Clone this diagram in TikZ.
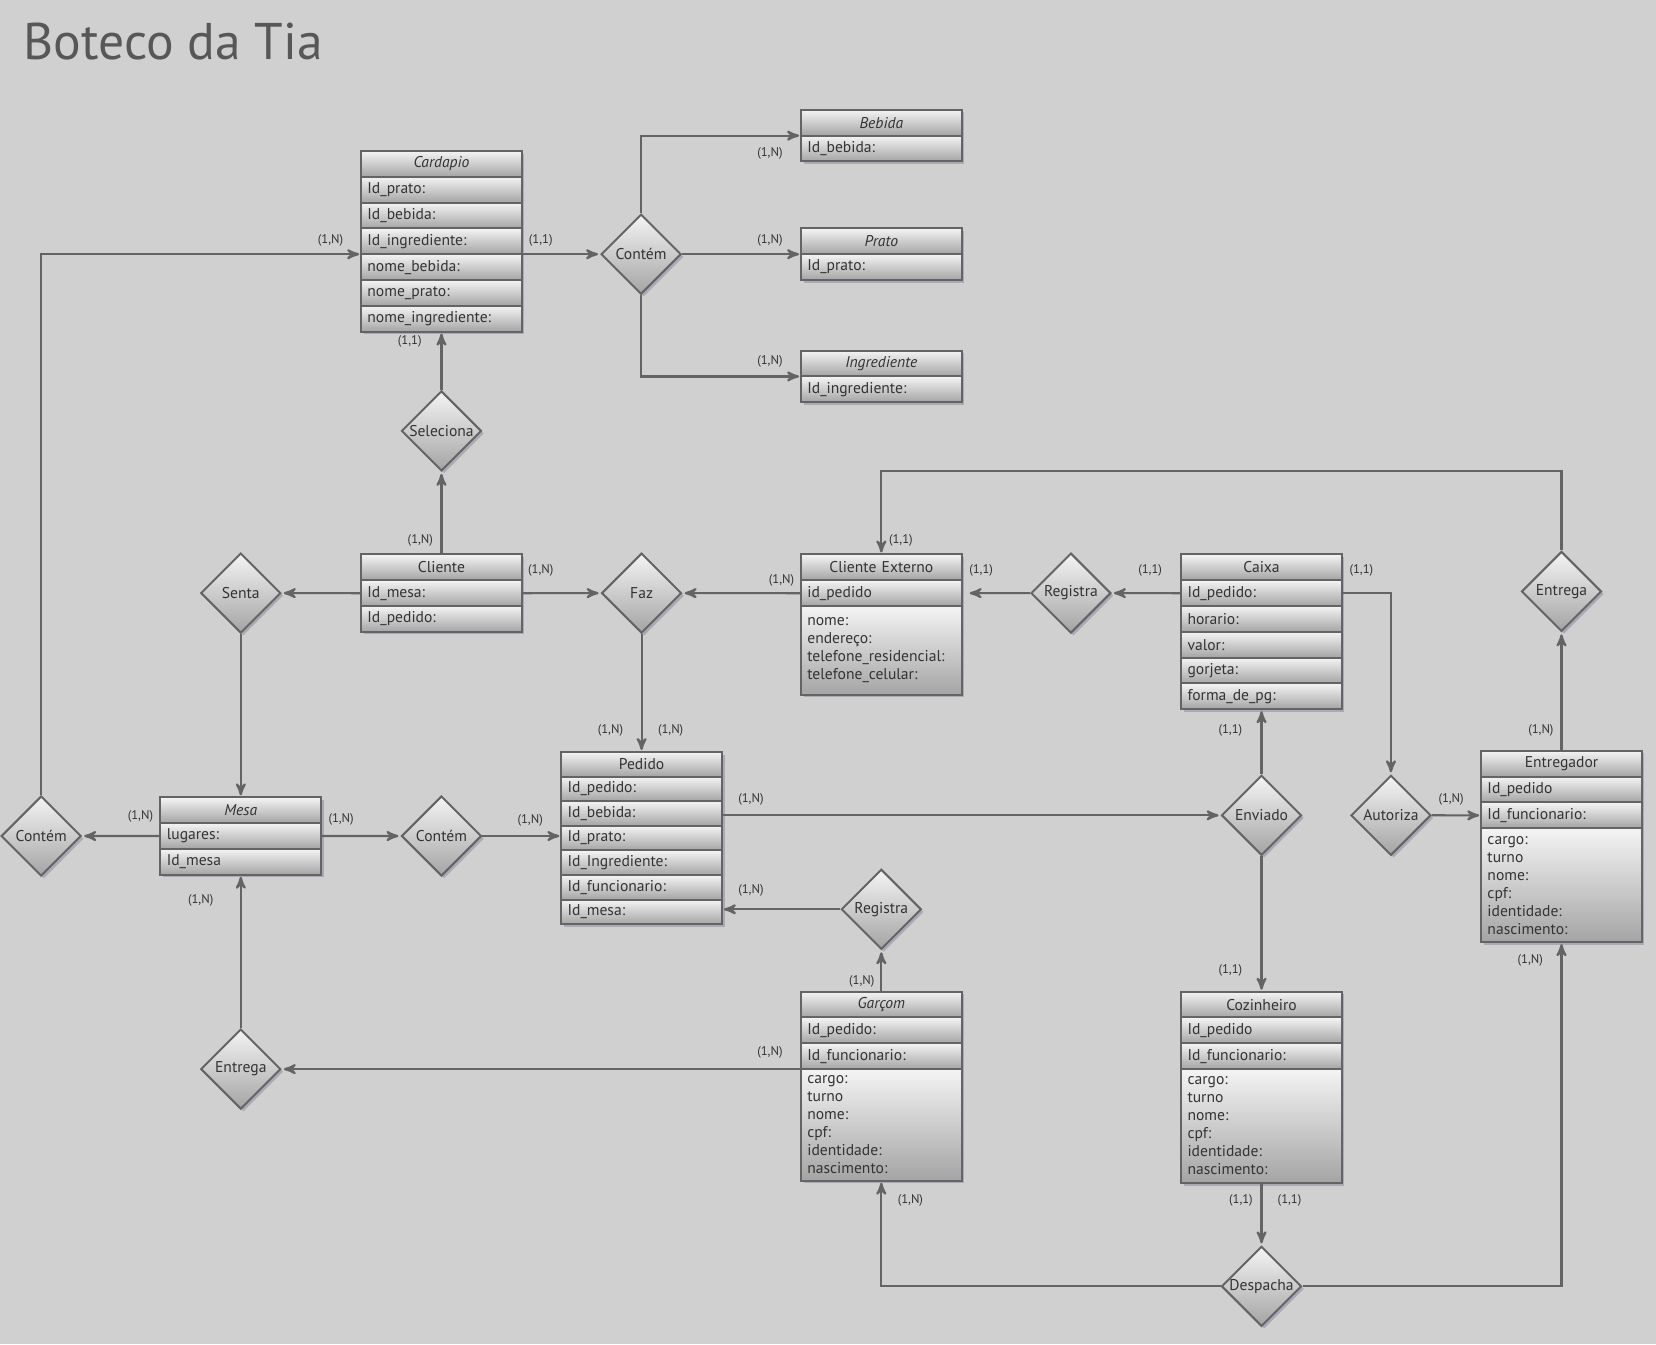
\documentclass[tikz,border=0pt]{standalone}
\usepackage{fontspec}
\setmainfont{PT Sans}
\usepackage{xcolor}
\usepackage{tikz}
\tikzset{font={\fontsize{7.8pt}{9pt}\selectfont}}
\usetikzlibrary{arrows,positioning,shapes.geometric,shadows}
\definecolor{bgcol}{HTML}{D0D0D0}
\definecolor{linecol}{HTML}{646464}
\definecolor{txtcol}{HTML}{333333}
\definecolor{boxtop}{HTML}{F4F4F4}
\definecolor{boxbot}{HTML}{A4A4A4}
\definecolor{shadecol}{HTML}{8C8CA2}

\begin{document}
\begin{tikzpicture}[x=0.528pt,y={(0pt,-0.528pt)},>=stealth',shorten >=1pt,line width=1.1pt,
    entity row/.style={rectangle,draw=linecol,line width=1pt,outer sep=0pt,
      minimum width=80.3pt,minimum height=12.9pt,text width=74pt,inner xsep=3pt,inner ysep=1pt,
      align=left,text=txtcol,top color=boxtop,bottom color=boxbot,
      drop shadow={shadow xshift=1.3pt,shadow yshift=-1.3pt,fill=shadecol,opacity=.55}},
    entity head/.style={entity row,align=center},
    entity attr/.style={entity row,minimum height=#1},
    rel node/.style={diamond,aspect=1,draw=linecol,line width=1pt,minimum size=40pt,inner sep=0pt,
      text=txtcol,top color=boxtop,bottom color=boxbot,
      drop shadow={shadow xshift=1.3pt,shadow yshift=-1.3pt,fill=shadecol,opacity=.55}},
    card label/.style={text=txtcol,font=\fontsize{6.3pt}{7pt}\selectfont,inner sep=0pt},
    link/.style={->,draw=linecol}]

  \path[fill=bgcol,use as bounding box] (0,0) rectangle (1568,1273);
  \node[anchor=west,text=black!66,font=\fontsize{25.8pt}{30pt}\selectfont] (title) at (15,39) {Boteco da Tia};

  % Cardapio
  \node[entity head] (card) at (418,155.2) {\textit{Cardapio}};
  \node[entity row, below=0pt of card] (card1) {Id\_prato:};
  \node[entity row, below=0pt of card1] (card2) {Id\_bebida:};
  \node[entity row, below=0pt of card2] (card3) {Id\_ingrediente:};
  \node[entity row, below=0pt of card3] (card4) {nome\_bebida:};
  \node[entity row, below=0pt of card4] (card5) {nome\_prato:};
  \node[entity row, below=0pt of card5] (card6) {nome\_ingrediente:};

  % Bebida, Prato, Ingrediente
  \node[entity head] (beb) at (834.5,116.2) {\textit{Bebida}};
  \node[entity row, below=0pt of beb] (beb1) {Id\_bebida:};
  \node[entity head] (prato) at (834.5,228.5) {\textit{Prato}};
  \node[entity row, below=0pt of prato] (prato1) {Id\_prato:};
  \node[entity head] (ingr) at (834.5,344.2) {\textit{Ingrediente}};
  \node[entity row, below=0pt of ingr] (ingr1) {Id\_ingrediente:};

  % Cliente
  \node[entity head] (cli) at (418,537.2) {Cliente};
  \node[entity row, below=0pt of cli] (cli1) {Id\_mesa:};
  \node[entity row, below=0pt of cli1] (cli2) {Id\_pedido:};

  % Cliente Externo
  \node[entity head] (cliext) at (834.5,537.2) {Cliente Externo};
  \node[entity row, below=0pt of cliext] (cliext1) {id\_pedido};
  \node[entity attr=44.4pt, below=0pt of cliext1] (cliextM)
    {nome:\\endereço:\\telefone\_residencial:\\telefone\_celular:};

  % Caixa
  \node[entity head] (caixa) at (1194.5,537.2) {Caixa};
  \node[entity row, below=0pt of caixa] (caixa1) {Id\_pedido:};
  \node[entity row, below=0pt of caixa1] (caixa2) {horario:};
  \node[entity row, below=0pt of caixa2] (caixa3) {valor:};
  \node[entity row, below=0pt of caixa3] (caixa4) {gorjeta:};
  \node[entity row, below=0pt of caixa4] (caixa5) {forma\_de\_pg:};

  % Entregador
  \node[entity head] (entr) at (1478.5,723.2) {Entregador};
  \node[entity row, below=0pt of entr] (entr1) {Id\_pedido};
  \node[entity row, below=0pt of entr1] (entr2) {Id\_funcionario:};
  \node[entity attr=56.9pt, below=0pt of entr2] (entrM)
    {cargo:\\turno\\nome:\\cpf:\\identidade:\\nascimento:};

  % Pedido
  \node[entity head, minimum height=12.3pt] (ped) at (607.5,723.7) {Pedido};
  \node[entity row, minimum height=12.3pt, below=0pt of ped] (ped1) {Id\_pedido:};
  \node[entity row, minimum height=12.3pt, below=0pt of ped1] (ped2) {Id\_bebida:};
  \node[entity row, minimum height=12.3pt, below=0pt of ped2] (ped3) {Id\_prato:};
  \node[entity row, minimum height=12.3pt, below=0pt of ped3] (ped4) {Id\_Ingrediente:};
  \node[entity row, minimum height=12.3pt, below=0pt of ped4] (ped5) {Id\_funcionario:};
  \node[entity row, minimum height=12.3pt, below=0pt of ped5] (ped6) {Id\_mesa:};

  % Mesa
  \node[entity head] (mesa) at (228,767.2) {\textit{Mesa}};
  \node[entity row, below=0pt of mesa] (mesa1) {lugares:};
  \node[entity row, below=0pt of mesa1] (mesa2) {Id\_mesa};

  % Garcom
  \node[entity head] (garc) at (834.5,951.2) {\textit{Garçom}};
  \node[entity row, below=0pt of garc] (garc1) {Id\_pedido:};
  \node[entity row, below=0pt of garc1] (garc2) {Id\_funcionario:};
  \node[entity attr=55.8pt, below=0pt of garc2] (garcM)
    {cargo:\\turno\\nome:\\cpf:\\identidade:\\nascimento:};

  % Cozinheiro
  \node[entity head] (coz) at (1194.5,951.2) {Cozinheiro};
  \node[entity row, below=0pt of coz] (coz1) {Id\_pedido};
  \node[entity row, below=0pt of coz1] (coz2) {Id\_funcionario:};
  \node[entity attr=56.9pt, below=0pt of coz2] (cozM)
    {cargo:\\turno\\nome:\\cpf:\\identidade:\\nascimento:};

  % relacionamentos
  \node[rel node] (contemC) at (607,240.7) {Contém};
  \node[rel node] (selec) at (418,408) {Seleciona};
  \node[rel node] (senta) at (228,561.6) {Senta};
  \node[rel node] (faz) at (607.5,561.6) {Faz};
  \node[rel node] (regR) at (1014,561.6) {Registra};
  \node[rel node] (entregaT) at (1478.5,560) {Entrega};
  \node[rel node] (contemL) at (39,791.6) {Contém};
  \node[rel node] (contemM) at (418,791.6) {Contém};
  \node[rel node] (enviado) at (1194.5,772) {Enviado};
  \node[rel node] (autor) at (1317,772) {Autoriza};
  \node[rel node] (regL) at (834.5,861) {Registra};
  \node[rel node] (entregaL) at (228,1012.3) {Entrega};
  \node[rel node] (despacha) at (1194.5,1218) {Despacha};

  \coordinate (bend) at (1478.5,446);

  % ligacoes
  \draw[link] (contemL.north) |- (card3.south west) node[card label] (l1) at (313,228) {(1,N)};
  \draw[link] (contemC.west -| card3.east) -- (contemC.west) node[card label] (l2) at (512,228) {(1,1)};
  \draw[link] (contemC.north) |- (beb.south west) node[card label] (l3) at (729,145) {(1,N)};
  \draw[link] (contemC.east) -- (contemC.east -| prato.west) node[card label] (l4) at (729,228) {(1,N)};
  \draw[link] (contemC.south) |- (ingr.south west) node[card label] (l5) at (729,342) {(1,N)};
  \draw[link] (selec.north) -- (card6.south) node[card label] (l6) at (388,323) {(1,1)};
  \draw[link] (cli.north) -- (selec.south) node[card label] (l7) at (398,512) {(1,N)};
  \draw[link] (cli1.west) -- (senta.east);
  \draw[link] (cli1.east) -- (faz.west) node[card label] (l8) at (512,540) {(1,N)};
  \draw[link] (cliext1.west) -- (faz.east) node[card label] (l9) at (740,550) {(1,N)};
  \draw[link] (senta.south) -- (mesa.north);
  \draw[link] (faz.south) -- (ped.north) node[card label] (l10) at (578,692) {(1,N)}
    node[card label] (l11) at (635,692) {(1,N)};
  \draw[link] (mesa1.west) -- (contemL.east) node[card label] (l12) at (133,773) {(1,N)};
  \draw[link] (mesa1.east) -- (contemM.west) node[card label] (l13) at (323,776) {(1,N)};
  \draw[link] (contemM.east) -- (contemM.east -| ped.west) node[card label] (l14) at (502,777) {(1,N)};
  \draw[link] (enviado.west -| ped.east) -- (enviado.west) node[card label] (l15) at (711,757) {(1,N)};
  \draw[link] (regL.west) -- (regL.west -| ped.east) node[card label] (l16) at (711,843) {(1,N)};
  \draw[link] (garc.north) -- (regL.south) node[card label] (l17) at (816,929) {(1,N)};
  \draw[link] (entregaL.east -| garc.west) -- (entregaL.east) node[card label] (l18) at (729,996) {(1,N)};
  \draw[link] (entregaL.north) -- (mesa2.south) node[card label] (l19) at (190,853) {(1,N)};
  \draw[link] (caixa1.west) -- (regR.east) node[card label] (l20) at (1089,540) {(1,1)};
  \draw[link,shorten >=4pt] (regR.west) -- (cliext1.east) node[card label] (l21) at (929,540) {(1,1)};
  \draw[link] (entregaT.north) -- (bend) -| (cliext.north) node[card label] (l22) at (853,512) {(1,1)};
  \draw[link] (entr.north) -- (entregaT.south) node[card label] (l23) at (1459,692) {(1,N)};
  \draw[link] (caixa1.east) -| (autor.north) node[card label] (l24) at (1289,540) {(1,1)};
  \draw[link] (autor.east) -- (entr2.west) node[card label] (l25) at (1374,757) {(1,N)};
  \draw[link] (enviado.north) -- (caixa5.south) node[card label] (l26) at (1165,692) {(1,1)};
  \draw[link] (enviado.south) -- (coz.north) node[card label] (l27) at (1165,919) {(1,1)};
  \draw[link] (cozM.south) -- (despacha.north) node[card label] (l28) at (1175,1137) {(1,1)}
    node[card label] (l29) at (1221,1137) {(1,1)};
  \draw[link] (despacha.west) -| (garcM.south) node[card label] (l30) at (862,1137) {(1,N)};
  \draw[link] (despacha.east) -| (entrM.south) node[card label] (l31) at (1449,909) {(1,N)};
\end{tikzpicture}
\end{document}
